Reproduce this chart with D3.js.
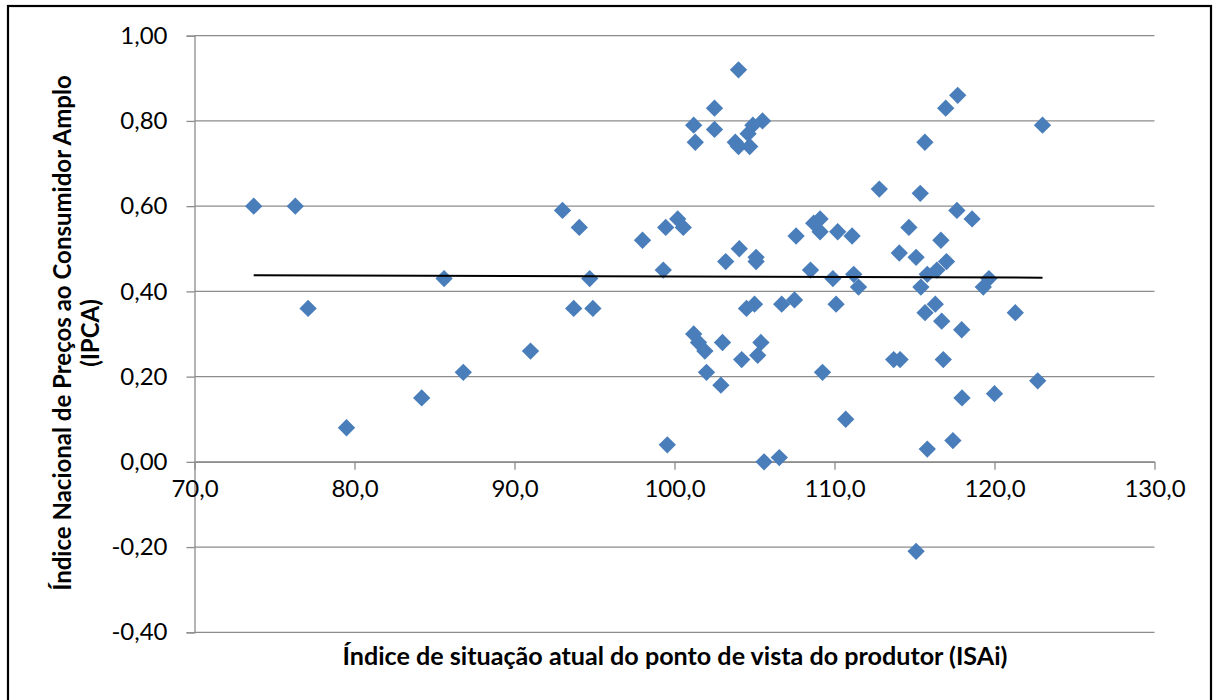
<!DOCTYPE html>
<html>
<head>
<meta charset="utf-8">
<script src="https://cdn.jsdelivr.net/npm/d3@7"></script>
<style>
  html, body { margin: 0; padding: 0; background: #fff; }
  svg { display: block; }
</style>
</head>
<body>
<svg id="chart" width="1215" height="700"></svg>
<script>
// ISAi (x) versus IPCA (y), one point per month
const isai = [
  73.7, 76.3, 77.1, 79.5, 84.2, 85.6, 86.8, 91.0, 93.0, 93.7,
  94.05, 94.7, 94.9, 98.0, 99.3, 99.45, 99.55, 100.2, 100.55, 101.2,
  101.3, 101.2, 101.5, 101.9, 102.0, 102.5, 102.5, 102.9, 103.0, 103.2,
  103.8, 104.0, 104.0, 104.05, 104.2, 104.5, 104.6, 104.7, 104.9, 105.0,
  105.1, 105.1, 105.2, 105.4, 105.5, 105.6, 106.55, 106.7, 107.5, 107.6,
  108.5, 108.7, 109.1, 109.1, 109.25, 109.9, 110.1, 110.2, 110.7, 111.1,
  111.2, 111.5, 112.8, 113.7, 114.05, 114.1, 114.65, 115.1, 115.1, 115.36,
  115.4, 115.65, 115.66, 115.8, 115.8, 116.3, 116.4, 116.65, 116.7, 116.8,
  116.95, 117.0, 117.4, 117.65, 117.7, 117.95, 117.97, 118.6, 119.3, 119.65,
  120.0, 121.3, 122.7, 123.0
];
const ipca = [
  0.60, 0.60, 0.36, 0.08, 0.15, 0.43, 0.21, 0.26, 0.59, 0.36,
  0.55, 0.43, 0.36, 0.52, 0.45, 0.55, 0.04, 0.57, 0.55, 0.79,
  0.75, 0.30, 0.28, 0.26, 0.21, 0.83, 0.78, 0.18, 0.28, 0.47,
  0.75, 0.74, 0.92, 0.50, 0.24, 0.36, 0.77, 0.74, 0.79, 0.37,
  0.48, 0.47, 0.25, 0.28, 0.80, 0.00, 0.01, 0.37, 0.38, 0.53,
  0.45, 0.56, 0.57, 0.54, 0.21, 0.43, 0.37, 0.54, 0.10, 0.53,
  0.44, 0.41, 0.64, 0.24, 0.49, 0.24, 0.55, 0.48, -0.21, 0.63,
  0.41, 0.75, 0.35, 0.03, 0.44, 0.37, 0.45, 0.52, 0.33, 0.24,
  0.83, 0.47, 0.05, 0.59, 0.86, 0.31, 0.15, 0.57, 0.41, 0.43,
  0.16, 0.35, 0.19, 0.79
];
const xTicks = [70, 80, 90, 100, 110, 120, 130];
const yTicks = [-0.40, -0.20, 0.00, 0.20, 0.40, 0.60, 0.80, 1.00];
const xTitle = "Índice de situação atual do ponto de vista do produtor (ISAi)";
const yTitleLines = ["Índice Nacional de Preços ao Consumidor Amplo", "(IPCA)"];

const points = isai.map((v, i) => ({ x: v, y: ipca[i] }));

const ptBR = d3.formatLocale({ decimal: ",", thousands: ".", grouping: [3], currency: ["R$", ""], minus: "-" });
const fmtX = ptBR.format(".1f");
const fmtY = ptBR.format(".2f");

const svg = d3.select("#chart");
const FONT = "Lato, 'Open Sans', sans-serif";
const FS = 24;

const x = d3.scaleLinear().domain([70, 130]).range([194.5, 1154.5]);
const y = d3.scaleLinear().domain([-0.4, 1.0]).range([632.3, 35.7]);

// outer frame
svg.append("rect")
  .attr("x", 8).attr("y", 6).attr("width", 1203).attr("height", 710)
  .attr("fill", "none").attr("stroke", "#000").attr("stroke-width", 2.2);

const gridColor = "#8c8c8c";

// horizontal gridlines
svg.append("g").selectAll("line").data(yTicks).join("line")
  .attr("x1", x(70)).attr("x2", x(130))
  .attr("y1", d => y(d)).attr("y2", d => y(d))
  .attr("stroke", gridColor).attr("stroke-width", 1.3);

// y axis
const yAxis = svg.append("g")
  .attr("transform", `translate(${x(70)},0)`)
  .call(d3.axisLeft(y).tickValues(yTicks).tickFormat(fmtY).tickSize(8).tickPadding(19));
yAxis.select(".domain").attr("stroke", gridColor).attr("stroke-width", 1.3);
yAxis.selectAll(".tick line").attr("stroke", gridColor).attr("stroke-width", 1.3);
yAxis.selectAll(".tick text")
  .attr("font-family", FONT).attr("font-size", FS).attr("fill", "#000");

// x axis crosses at y = 0
const xAxis = svg.append("g")
  .attr("transform", `translate(0,${y(0)})`)
  .call(d3.axisBottom(x).tickValues(xTicks).tickFormat(fmtX).tickSizeInner(8).tickSizeOuter(0).tickPadding(10));
xAxis.select(".domain").attr("stroke", gridColor).attr("stroke-width", 1.3);
xAxis.selectAll(".tick line").attr("stroke", gridColor).attr("stroke-width", 1.3);
xAxis.selectAll(".tick text")
  .attr("font-family", FONT).attr("font-size", FS).attr("fill", "#000");

// scatter points as diamonds
const diamond = d3.symbol().type(d3.symbolSquare).size(150)();
svg.append("g").selectAll("path").data(points).join("path")
  .attr("d", diamond)
  .attr("transform", d => `translate(${x(d.x)},${y(d.y)}) rotate(45)`)
  .attr("fill", "#4a7ebb");

// linear trend line (least squares) across the data range
const mx = d3.mean(points, d => d.x), my = d3.mean(points, d => d.y);
const slope = d3.sum(points, d => (d.x - mx) * (d.y - my)) / d3.sum(points, d => (d.x - mx) ** 2);
const intercept = my - slope * mx;
const [xmin, xmax] = d3.extent(points, d => d.x);
svg.append("line")
  .attr("x1", x(xmin)).attr("y1", y(intercept + slope * xmin))
  .attr("x2", x(xmax)).attr("y2", y(intercept + slope * xmax))
  .attr("stroke", "#000").attr("stroke-width", 2);

// axis titles
svg.append("text")
  .attr("x", 675).attr("y", 665)
  .attr("text-anchor", "middle")
  .attr("font-family", FONT).attr("font-weight", "bold").attr("font-size", FS)
  .attr("textLength", 665).attr("lengthAdjust", "spacingAndGlyphs")
  .text(xTitle);

const yTitle = svg.append("text")
  .attr("transform", "translate(0,333) rotate(-90)")
  .attr("text-anchor", "middle")
  .attr("font-family", FONT).attr("font-weight", "bold").attr("font-size", FS);
yTitle.selectAll("tspan").data(yTitleLines).join("tspan")
  .attr("x", 0).attr("y", (d, i) => 71 + i * 28)
  .text(d => d);
</script>
</body>
</html>
